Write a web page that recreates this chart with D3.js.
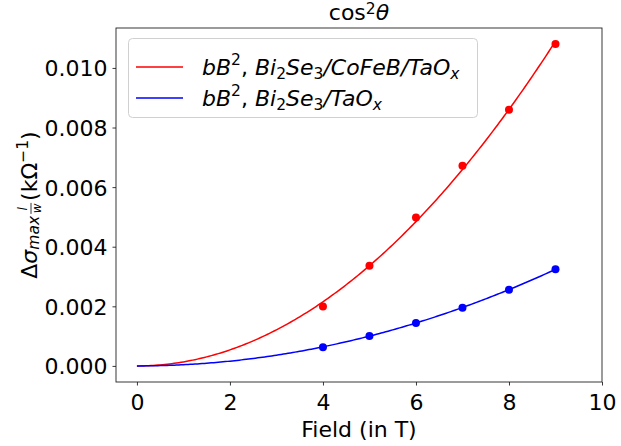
<!DOCTYPE html>
<html>
<head>
<meta charset="utf-8">
<script src="https://cdn.jsdelivr.net/npm/d3@7"></script>
<style>
  html, body { margin: 0; padding: 0; background: #fff; }
  svg { display: block; font-family: "DejaVu Sans", sans-serif; }
</style>
</head>
<body>
<svg id="chart" width="621" height="446"></svg>
<script>
// Field values (T) at which the conductance change was measured
const fields = [4, 5, 6, 7, 8, 9];
// Measured Δσ (kΩ⁻¹) for each stack
const cofebValues = [0.00199, 0.00336, 0.00498, 0.00672, 0.00860, 0.01080];
const taoxValues  = [0.00063, 0.00100, 0.00144, 0.00195, 0.00256, 0.00324];
// Fitted coefficient b for the bB² curve of each stack
const fitB = [0.0001345, 0.00004];
const seriesColors = ["#ff0000", "#0000ff"];
const xTicks = [0, 2, 4, 6, 8, 10];
const yTicks = [0.000, 0.002, 0.004, 0.006, 0.008, 0.010];

const svg = d3.select("#chart");
const margin = { left: 116, right: 19, top: 28, bottom: 64 };
const W = 621, H = 446;
const x = d3.scaleLinear().domain([-0.45, 10]).range([margin.left, W - margin.right]);
const y = d3.scaleLinear().domain([-0.00054, 0.01134]).range([H - margin.bottom, margin.top]);

const FS = 22;   // main text size
const SS = 15.5; // script size

// curves: bB² from 0 to the last field
const curveX = d3.range(0, 9.0001, 0.05);
const line = d3.line().x(d => x(d[0])).y(d => y(d[1]));
const seriesData = [cofebValues, taoxValues];

seriesData.forEach((vals, i) => {
  svg.append("path")
    .datum(curveX.map(b => [b, fitB[i] * b * b]))
    .attr("d", line)
    .attr("fill", "none")
    .attr("stroke", seriesColors[i])
    .attr("stroke-width", 1.5);
});
seriesData.forEach((vals, i) => {
  svg.append("g").selectAll("circle")
    .data(vals.map((v, k) => [fields[k], v]))
    .join("circle")
    .attr("cx", d => x(d[0]))
    .attr("cy", d => y(d[1]))
    .attr("r", 4)
    .attr("fill", seriesColors[i]);
});

// axes
const xAxis = d3.axisBottom(x).tickValues(xTicks).tickFormat(d3.format("d")).tickSize(3.5).tickPadding(5);
const yAxis = d3.axisLeft(y).tickValues(yTicks).tickFormat(d3.format(".3f")).tickSize(3.5).tickPadding(5);

const gx = svg.append("g").attr("transform", `translate(0,${H - margin.bottom})`).call(xAxis);
const gy = svg.append("g").attr("transform", `translate(${margin.left},0)`).call(yAxis);
[gx, gy].forEach(g => {
  g.select(".domain").remove();
  g.selectAll(".tick line").attr("stroke", "#222").attr("stroke-width", 0.9);
  g.selectAll(".tick text").attr("font-size", FS).attr("fill", "#000")
    .attr("font-family", "DejaVu Sans");
});
gx.selectAll(".tick text").attr("dy", "0.9em");
gy.selectAll(".tick text").attr("dy", "0.36em");

// frame
svg.append("rect")
  .attr("x", margin.left).attr("y", margin.top)
  .attr("width", W - margin.left - margin.right)
  .attr("height", H - margin.top - margin.bottom)
  .attr("fill", "none").attr("stroke", "#222").attr("stroke-width", 0.9);

// title cos²θ
const cx = (margin.left + W - margin.right) / 2;
const title = svg.append("text").attr("x", cx).attr("y", 20)
  .attr("text-anchor", "middle").attr("font-size", FS);
title.append("tspan").text("cos");
title.append("tspan").attr("font-size", SS).attr("dy", -6.5).text("2");
title.append("tspan").attr("font-style", "italic").attr("dy", 6.5).text("θ");

// x label
svg.append("text").attr("x", cx).attr("y", 437)
  .attr("text-anchor", "middle").attr("font-size", FS).text("Field (in T)");

// y label, built piece by piece in a rotated frame
const yl = svg.append("g");
const ylText = yl.append("text").attr("font-size", FS);
ylText.append("tspan").text("Δ");
ylText.append("tspan").attr("font-style", "italic").text("σ");
ylText.append("tspan").attr("font-style", "italic").attr("font-size", SS).attr("dy", 2).text("max");
const wPre = ylText.node().getComputedTextLength();
// fraction l / w in the subscript
const fracX = wPre + 1;
yl.append("text").attr("font-style", "italic").attr("font-size", 12)
  .attr("x", fracX + 6).attr("y", -10).attr("text-anchor", "middle").text("l");
yl.append("line").attr("x1", fracX + 1).attr("x2", fracX + 12)
  .attr("y1", -6).attr("y2", -6).attr("stroke", "#000").attr("stroke-width", 0.8);
yl.append("text").attr("font-style", "italic").attr("font-size", 12)
  .attr("x", fracX + 6.5).attr("y", 4).attr("text-anchor", "middle").text("w");
const rest = yl.append("text").attr("font-size", FS).attr("x", fracX + 14);
rest.append("tspan").text("(k");
rest.append("tspan").text("Ω");
rest.append("tspan").attr("font-size", SS).attr("dy", -9).text("−1");
rest.append("tspan").attr("dy", 9).text(")");
const totalW = fracX + 14 + rest.node().getComputedTextLength();
yl.attr("transform", `translate(37,${205 + totalW / 2}) rotate(-90)`);

// legend
const lg = svg.append("g");
lg.append("rect").attr("x", 128.5).attr("y", 38.5).attr("width", 349).attr("height", 79)
  .attr("rx", 4).attr("fill", "#fff").attr("fill-opacity", 0.8)
  .attr("stroke", "#d0d0d0").attr("stroke-width", 1);

const legendRows = [
  [["b", "i"], ["B", "i"], ["2", "sup"], [", ", "n"], ["B", "i"], ["i", "i"], ["2", "sub"], ["S", "i"], ["e", "i"], ["3", "sub"], ["/", "i"], ["CoFeB", "i"], ["/", "i"], ["TaO", "i"], ["x", "subi"]],
  [["b", "i"], ["B", "i"], ["2", "sup"], [", ", "n"], ["B", "i"], ["i", "i"], ["2", "sub"], ["S", "i"], ["e", "i"], ["3", "sub"], ["/", "i"], ["TaO", "i"], ["x", "subi"]]
];
const rowY = [75, 106];
legendRows.forEach((row, i) => {
  lg.append("line").attr("x1", 136).attr("x2", 183)
    .attr("y1", rowY[i] - 8).attr("y2", rowY[i] - 8)
    .attr("stroke", seriesColors[i]).attr("stroke-width", 1.5);
  const t = lg.append("text").attr("x", 202).attr("y", rowY[i]).attr("font-size", FS);
  let shift = 0;
  row.forEach(([s, kind]) => {
    const ts = t.append("tspan").text(s);
    let target = 0;
    if (kind === "i") ts.attr("font-style", "italic");
    if (kind === "sup") { ts.attr("font-size", SS); target = -10; }
    if (kind === "sub") { ts.attr("font-size", SS); target = 4; }
    if (kind === "subi") { ts.attr("font-size", SS).attr("font-style", "italic"); target = 4; }
    ts.attr("dy", target - shift);
    shift = target;
  });
});
</script>
</body>
</html>
